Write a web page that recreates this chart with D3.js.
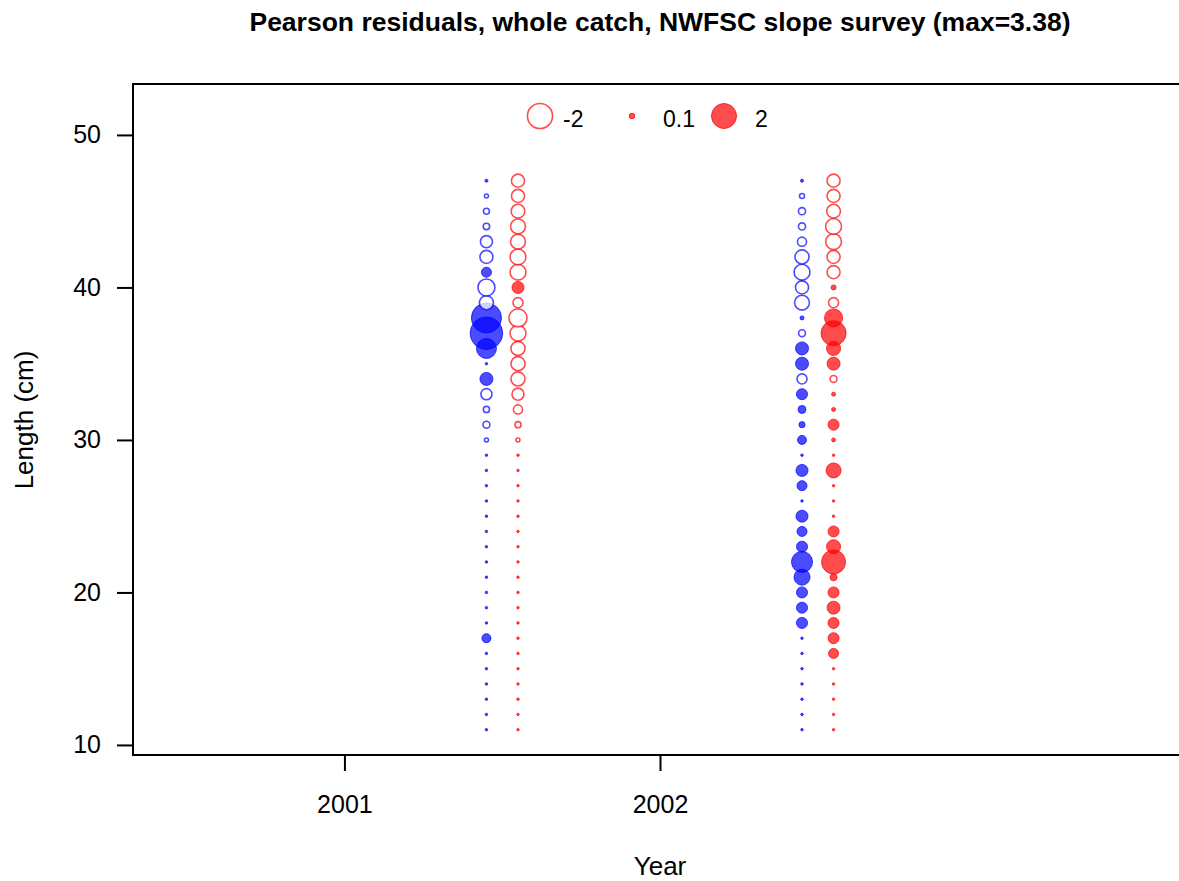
<!DOCTYPE html>
<html>
<head>
<meta charset="utf-8">
<script src="https://cdn.jsdelivr.net/npm/d3@7"></script>
<style>
  body { margin: 0; background: #fff; }
  text { font-family: "Liberation Sans", Arial, sans-serif; }
</style>
</head>
<body>
<svg id="chart" width="1179" height="881"></svg>
<script>
// lengths (cm), bottom to top
var lengths = [11,12,13,14,15,16,17,18,19,20,21,22,23,24,25,26,27,28,29,30,31,32,33,34,35,36,37,38,39,40,41,42,43,44,45,46,47];
var years = [2001, 2002];
var yTicks = [10, 20, 30, 40, 50];

// Pearson residuals by length, one array per year and sex
var t = 0.02;
var blue2001 = [t,t,t,t,t,t,0.26,t,t,t,t,t,t,t,t,t,t,t,t,-0.05,-0.15,-0.12,-0.39,0.54,t,1.28,3.38,2.88,-0.63,-0.92,0.32,-0.54,-0.46,-0.13,-0.115,-0.05,0.03];
var red2001  = [t,t,t,t,t,t,t,t,t,t,t,t,t,t,t,t,t,t,t,-0.05,-0.12,-0.26,-0.46,-0.63,-0.63,-0.63,-0.8,-1.04,-0.32,0.46,-0.8,-0.8,-0.7,-0.7,-0.6,-0.54,-0.54];
var blue2002 = [t,t,t,t,t,t,t,0.39,0.39,0.39,0.82,1.41,0.39,0.32,0.46,t,0.32,0.46,t,0.26,0.12,0.2,0.39,-0.32,0.54,0.54,-0.15,0.05,-0.7,-0.54,-0.8,-0.63,-0.26,-0.16,-0.16,-0.08,0.03];
var red2002  = [t,t,t,t,t,0.32,0.39,0.39,0.54,0.39,0.16,1.84,0.63,0.39,t,t,t,0.72,t,0.05,0.39,0.05,0.05,-0.15,0.54,0.63,2.0,1.04,-0.32,0.08,-0.54,-0.54,-0.8,-0.8,-0.6,-0.54,-0.54];

var maxResid = 3.38;
var legendVals = [-2, 0.1, 2];

var svg = d3.select("#chart"),
    margin = {top: 84, right: -8, bottom: 126, left: 133},
    width = +svg.attr("width") - margin.left - margin.right,
    height = +svg.attr("height") - margin.top - margin.bottom;

var x = d3.scaleLinear().domain([2000.33, 2003.67]).range([0, width]),
    y = d3.scaleLinear().domain([9.34, 53.34]).range([height, 0]),
    r = d3.scaleSqrt().domain([0, maxResid]).range([0, 16.3]);

var g = svg.append("g")
    .attr("transform", "translate(" + margin.left + "," + margin.top + ")");

var cols = {
  blue: {fill: "rgba(0,0,255,0.7)", stroke: "rgba(0,0,255,0.7)"},
  red:  {fill: "rgba(255,0,0,0.7)", stroke: "rgba(255,0,0,0.7)"}
};

var series = [
  {x: 2001.45, col: "blue", vals: blue2001},
  {x: 2001.55, col: "red",  vals: red2001},
  {x: 2002.45, col: "blue", vals: blue2002},
  {x: 2002.55, col: "red",  vals: red2002}
];

series.forEach(function(s) {
  g.selectAll(null)
    .data(s.vals.map(function(v, i) { return {v: v, len: lengths[i]}; }))
    .enter().append("circle")
      .attr("cx", x(s.x))
      .attr("cy", function(d) { return y(d.len); })
      .attr("r", function(d) { return r(Math.abs(d.v)); })
      .attr("fill", function(d) { return d.v > 0 ? cols[s.col].fill : "rgba(255,255,255,0.75)"; })
      .attr("stroke", cols[s.col].stroke)
      .attr("stroke-width", function(d) { return d.v > 0 ? 1 : 1.6; });
});

// box (right side runs past the window)
g.append("rect")
  .attr("x", 0).attr("y", 0)
  .attr("width", width).attr("height", height)
  .attr("fill", "none").attr("stroke", "#000").attr("stroke-width", 2);

// axes
var yAxis = g.append("g")
  .call(d3.axisLeft(y).tickValues(yTicks).tickSize(16).tickPadding(16));
var xAxis = g.append("g")
  .attr("transform", "translate(0," + height + ")")
  .call(d3.axisBottom(x).tickValues(years).tickFormat(d3.format("d")).tickSize(16).tickPadding(24));
[yAxis, xAxis].forEach(function(a) {
  a.select(".domain").remove();
  a.selectAll("line").attr("stroke", "#000").attr("stroke-width", 2);
  a.selectAll("text").attr("font-size", 25).attr("fill", "#000")
    .style("font-family", "'Liberation Sans', Arial, sans-serif");
});

// legend
var legX = [540, 632, 724], legLab = [563, 663, 755];
var lg = svg.append("g");
legendVals.forEach(function(v, i) {
  lg.append("circle")
    .attr("cx", legX[i]).attr("cy", 116)
    .attr("r", r(Math.abs(v)))
    .attr("fill", v > 0 ? cols.red.fill : "rgba(255,255,255,0.75)")
    .attr("stroke", cols.red.stroke)
    .attr("stroke-width", v > 0 ? 1 : 1.6);
  lg.append("text")
    .attr("x", legLab[i]).attr("y", 127)
    .attr("font-size", 23)
    .text(v);
});

// titles
svg.append("text")
  .attr("x", 660).attr("y", 31)
  .attr("text-anchor", "middle")
  .attr("font-size", 26.5).attr("font-weight", "bold")
  .text("Pearson residuals, whole catch, NWFSC slope survey (max=3.38)");

svg.append("text")
  .attr("x", 660).attr("y", 875)
  .attr("text-anchor", "middle")
  .attr("font-size", 26)
  .text("Year");

svg.append("text")
  .attr("transform", "translate(33,420) rotate(-90)")
  .attr("text-anchor", "middle")
  .attr("font-size", 26)
  .text("Length (cm)");
</script>
</body>
</html>
